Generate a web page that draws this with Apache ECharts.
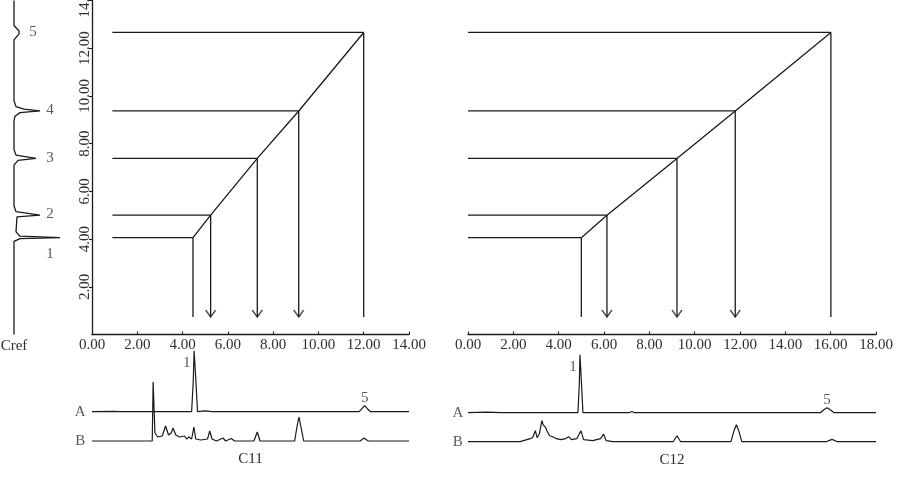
<!DOCTYPE html>
<html>
<head>
<meta charset="UTF-8">
<title>Cref retention mapping C11 / C12</title>
<script src="https://cdn.jsdelivr.net/npm/echarts@6/dist/echarts.min.js"></script>
<style>
  html, body { margin: 0; padding: 0; background: #fff; }
  #main { width: 897px; height: 478px; }
</style>
</head>
<body>
<div id="main"></div>
<script>
// retention times of reference peaks 1..5 (read on the vertical axis)
var crefTimes = [4.06, 5.00, 7.38, 9.37, 12.66];
// the same peaks found on column C11 and column C12
var c11Times = [4.46, 5.24, 7.30, 9.13, 12.00];
var c12Times = [5.00, 6.13, 9.22, 11.79, 16.01];
var arrowPeaks = [1, 2, 3];          // peaks 2,3,4 carry an arrow
var dropEnd = 0.73;                  // where the vertical drops stop
var c11LineStart = 0.9, c12LineStart = 0;
var peakNames = ['1', '2', '3', '4', '5'];

// Cref chromatogram, [signal, time]
var crefTrace = [
  [0, 14], [0, 12.95], [5, 12.72], [6, 12.66], [5, 12.6], [0, 12.35],
  [0, 9.8], [2, 9.55], [10, 9.45], [26, 9.37], [6, 9.3], [1, 9.15], [0, 8.95],
  [0, 7.75], [2, 7.52], [22, 7.38], [4, 7.3], [0, 7.1],
  [0, 5.4], [2, 5.15], [26, 5.0], [3, 4.93], [2, 4.85], [2, 4.3],
  [6, 4.12], [46, 4.06], [6, 4.02], [0, 3.9], [0, 0]
];

// C11 chromatograms, [time, signal]
var c11A = [
  [0, 0], [1.0, 0.3], [1.2, 0], [4.40, 0], [4.47, 30], [4.51, 61], [4.55, 61],
  [4.59, 30], [4.66, 0], [5.0, 0.8], [5.3, 0], [11.8, 0], [11.92, 3], [12.04, 6],
  [12.16, 3], [12.3, 0], [14, 0]
];
var c11B = [
  [0, 0], [2.66, 0], [2.70, 59], [2.74, 59], [2.78, 8], [2.9, 4], [3.1, 5],
  [3.25, 15], [3.38, 6], [3.5, 8], [3.58, 13], [3.7, 6], [3.87, 4], [3.95, 2],
  [4.09, 5], [4.18, 2], [4.28, 4], [4.4, 2], [4.5, 14], [4.58, 2], [4.8, 1],
  [5.1, 2], [5.2, 10], [5.3, 2], [5.5, 0], [5.79, 3], [5.9, 0], [6.15, 2.5],
  [6.3, 0], [7.15, 0], [7.30, 9], [7.42, 0], [8.95, 0], [9.05, 14], [9.14, 24],
  [9.23, 14], [9.35, 0], [11.85, 0], [12.01, 3], [12.2, 0], [14, 0]
];

// C12 chromatograms, [time, signal]
var c12A = [
  [0, 0], [0.8, 0.5], [1.5, 0], [4.85, 0], [4.91, 28], [4.94, 58], [4.98, 58],
  [5.01, 28], [5.07, 0], [7.1, 0], [7.23, 1.2], [7.35, 0], [15.55, 0], [15.7, 3],
  [15.84, 5], [15.98, 3], [16.15, 0], [18, 0]
];
var c12B = [
  [0, 0], [2.3, 0], [2.6, 2], [2.75, 3], [2.85, 4], [2.97, 11], [3.05, 4],
  [3.15, 8], [3.26, 21], [3.31, 17], [3.37, 18], [3.43, 14], [3.48, 11], [3.6, 6],
  [3.74, 5], [3.9, 3], [4.1, 2], [4.3, 3], [4.44, 5], [4.56, 2], [4.8, 3],
  [4.98, 11], [5.1, 2], [5.5, 1], [5.85, 3], [5.98, 7.5], [6.1, 1], [6.4, 0],
  [9.05, 0], [9.22, 6], [9.38, 0], [11.6, 0], [11.75, 12], [11.84, 17],
  [11.93, 12], [12.08, 0], [13, 0], [15.8, 0], [16.06, 2.3], [16.3, 0], [18, 0]
];

var FONT = 'Liberation Serif';
var FS = 15;
var TXT = '#2e2e2e';
var INK = '#1a1a1a';

var chart = echarts.init(document.getElementById('main'));

function mapSegments(times, start) {
  var segs = [];
  for (var i = 0; i < times.length; i++) {
    segs.push({ coords: [[start, crefTimes[i]], [times[i], crefTimes[i]]] });
    segs.push({ coords: [[times[i], crefTimes[i]], [times[i], dropEnd]] });
  }
  segs.push({ coords: times.map(function (t, i) { return [t, crefTimes[i]]; }) });
  return segs;
}

function mapSeries(idx, times, start) {
  return [{
    type: 'lines',
    coordinateSystem: 'cartesian2d',
    xAxisIndex: idx, yAxisIndex: idx,
    polyline: true,
    silent: true,
    lineStyle: { color: INK, width: 1.3, opacity: 1, curveness: 0 },
    data: mapSegments(times, start)
  }, {
    type: 'scatter',
    xAxisIndex: idx, yAxisIndex: idx,
    silent: true,
    clip: false,
    symbol: 'path://M0,0L5,7L10,0',
    symbolSize: [10, 7],
    symbolOffset: [0, '-50%'],
    itemStyle: { color: 'rgba(0,0,0,0)', borderColor: INK, borderWidth: 1.3 },
    data: arrowPeaks.map(function (i) { return [times[i], dropEnd]; })
  }];
}

function traceSeries(idx, data, offset) {
  return {
    type: 'line',
    xAxisIndex: idx, yAxisIndex: idx,
    showSymbol: false,
    silent: true,
    clip: false,
    lineStyle: { color: INK, width: 1.2 },
    data: data.map(function (p) { return [p[0], p[1] + offset]; })
  };
}

function labelSeries(idx, items) {
  return {
    type: 'scatter',
    xAxisIndex: idx, yAxisIndex: idx,
    silent: true,
    clip: false,
    symbolSize: 1,
    itemStyle: { color: 'rgba(0,0,0,0)' },
    label: {
      show: true, position: 'inside',
      formatter: function (p) { return p.value[2]; },
      fontFamily: FONT, fontSize: FS, color: TXT
    },
    data: items
  };
}

function timeAxis(grid, max) {
  return {
    gridIndex: grid, type: 'value', min: 0, max: max, interval: 2,
    axisLine: { lineStyle: { color: INK, width: 1.3 } },
    axisTick: { inside: true, length: 3, lineStyle: { color: INK } },
    axisLabel: {
      margin: 3, color: TXT, fontFamily: FONT, fontSize: FS,
      formatter: function (v) { return v.toFixed(2); }
    },
    splitLine: { show: false }
  };
}

function nameOnlyAxis(grid, max, name) {
  return {
    gridIndex: grid, type: 'value', min: 0, max: max,
    axisLine: { show: false }, axisTick: { show: false },
    axisLabel: { show: false }, splitLine: { show: false },
    name: name, nameLocation: 'middle', nameGap: 11,
    nameTextStyle: { fontFamily: FONT, fontSize: FS, color: TXT }
  };
}

function gridBox(left, top, width, height) {
  return { left: left, top: top, width: width, height: height,
    containLabel: false, outerBoundsMode: 'none' };
}

var A_OFF_C11 = 29.3, A_OFF_C12 = 29.0;

var option = {
  animation: false,
  backgroundColor: '#fff',
  grid: [
    gridBox(92, 0.5, 317, 334),
    gridBox(468, 0.5, 408, 334),
    gridBox(14, 0.5, 50, 334),
    gridBox(92, 340, 317, 101),
    gridBox(468, 340, 408, 101.7)
  ],
  xAxis: [
    timeAxis(0, 14),
    timeAxis(1, 18),
    { gridIndex: 2, type: 'value', min: 0, max: 50, show: false },
    nameOnlyAxis(3, 14, 'C11'),
    nameOnlyAxis(4, 18, 'C12')
  ],
  yAxis: [
    {
      gridIndex: 0, type: 'value', min: 0, max: 14, interval: 2,
      axisLine: { lineStyle: { color: INK, width: 1.3 } },
      axisTick: { length: 3, lineStyle: { color: INK } },
      axisLabel: {
        rotate: 90, margin: -1, showMinLabel: false,
        color: TXT, fontFamily: FONT, fontSize: FS,
        formatter: function (v) { return v.toFixed(2); }
      },
      splitLine: { show: false }
    },
    { gridIndex: 1, type: 'value', min: 0, max: 14, show: false },
    {
      gridIndex: 2, type: 'value', min: 0, max: 14,
      axisLine: { show: false }, axisTick: { show: false },
      axisLabel: { show: false }, splitLine: { show: false },
      name: 'Cref', nameLocation: 'start', nameGap: 4,
      nameTextStyle: { fontFamily: FONT, fontSize: FS, color: TXT }
    },
    { gridIndex: 3, type: 'value', min: 0, max: 101, show: false },
    { gridIndex: 4, type: 'value', min: 0, max: 101.7, show: false }
  ],
  series: [].concat(
    mapSeries(0, c11Times, c11LineStart),
    mapSeries(1, c12Times, c12LineStart),
    [
      {
        type: 'line', xAxisIndex: 2, yAxisIndex: 2,
        showSymbol: false, silent: true, clip: false,
        lineStyle: { color: INK, width: 1.3 },
        data: crefTrace
      },
      labelSeries(2, [
        [19, 12.68, peakNames[4]], [36, 9.40, peakNames[3]], [36, 7.39, peakNames[2]],
        [36, 5.04, peakNames[1]], [36, 3.36, peakNames[0]]
      ]),
      traceSeries(3, c11A, A_OFF_C11),
      traceSeries(3, c11B, 0),
      labelSeries(3, [
        [4.19, 78, peakNames[0]], [12.05, 43, peakNames[4]],
        [-0.52, A_OFF_C11, 'A'], [-0.52, 0, 'B']
      ]),
      traceSeries(4, c12A, A_OFF_C12),
      traceSeries(4, c12B, 0),
      labelSeries(4, [
        [4.63, 74.7, peakNames[0]], [15.84, 41.7, peakNames[4]],
        [-0.45, A_OFF_C12, 'A'], [-0.45, 0, 'B']
      ])
    ]
  )
};

chart.setOption(option);
</script>
</body>
</html>
